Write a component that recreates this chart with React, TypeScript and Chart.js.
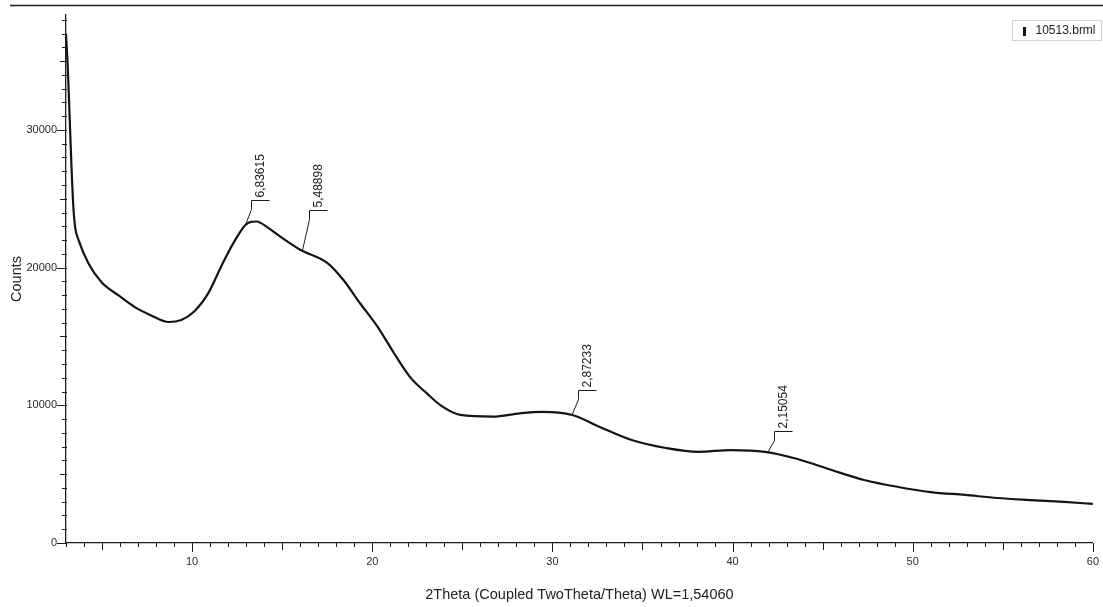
import { useEffect, useRef } from 'react';
import { Chart, registerables } from 'chart.js';

Chart.register(...registerables);

// Diffractogram of sample 10513 (Cu Kα, WL = 1,54060 Å)
const WAVELENGTH = 1.5406;
const seriesName = '10513.brml';

const twoTheta = [
  3.0, 3.1, 3.2, 3.3, 3.4, 3.5, 3.7, 4.25, 5.0, 5.9, 6.8, 7.7, 8.7, 9.4, 10.1, 10.9,
  11.6, 12.3, 13.1, 13.6, 13.8, 14.9, 16.0, 17.5, 18.4, 19.3, 20.3, 21.2, 22.1, 23.0,
  23.9, 24.9, 26.7, 28.2, 29.4, 31.1, 32.6, 34.4, 36.3, 38.1, 39.9, 41.8, 43.6, 45.5,
  47.3, 49.2, 51.0, 52.9, 54.7, 56.5, 58.4, 60.0,
];

const counts = [
  37000, 34500, 31000, 27500, 24600, 23000, 22000, 20300, 18900, 18000, 17150, 16550,
  16050, 16200, 16800, 18150, 20050, 21800, 23250, 23350, 23250, 22250, 21300, 20350,
  19100, 17450, 15700, 13800, 12050, 10900, 9900, 9300, 9180, 9420, 9520, 9300, 8450,
  7480, 6900, 6620, 6750, 6620, 6100, 5300, 4580, 4070, 3700, 3490, 3270, 3120, 2980,
  2840,
];

// d-spacings (Å) of the marked reflections
const peakD = [6.83615, 5.48898, 2.87233, 2.15054];
const peakLabels = ['6,83615', '5,48898', '2,87233', '2,15054'];

const xTickValues = [10, 20, 30, 40, 50, 60];
const yTickValues = [0, 10000, 20000, 30000];

// leader heights above the trace for each marker, px
const LEADER_RISE = [27, 41, 25, 22];

const FONT = "'Liberation Sans', Arial, Helvetica, sans-serif";
const INK = '#1c1c1c';

function braggTwoTheta(d: number) {
  return (2 * Math.asin(WAVELENGTH / (2 * d)) * 180) / Math.PI;
}

function countsAt(x: number) {
  for (let i = 0; i < twoTheta.length - 1; i++) {
    if (x >= twoTheta[i] && x <= twoTheta[i + 1]) {
      const t = (x - twoTheta[i]) / (twoTheta[i + 1] - twoTheta[i]);
      return counts[i] + t * (counts[i + 1] - counts[i]);
    }
  }
  return counts[counts.length - 1];
}

const decorations = {
  id: 'xrdDecorations',
  afterDraw(chart: any) {
    const { ctx, chartArea, scales } = chart;
    const xs = scales.x;
    const ys = scales.y;
    const seg = (x1: number, y1: number, x2: number, y2: number) => {
      ctx.beginPath();
      ctx.moveTo(x1, y1);
      ctx.lineTo(x2, y2);
      ctx.stroke();
    };
    ctx.save();
    ctx.strokeStyle = INK;

    // frame line across the top of the page
    ctx.lineWidth = 1.6;
    seg(10, 5.5, chart.width, 5.5);

    // x-axis tick marks: 1° minor, 5° medium, 10° major
    ctx.lineWidth = 1;
    for (let v = Math.ceil(xs.min); v <= xs.max; v += 1) {
      const px = Math.round(xs.getPixelForValue(v)) + 0.5;
      const len = v % 10 === 0 ? 9 : v % 5 === 0 ? 7 : 4;
      seg(px, chartArea.bottom, px, chartArea.bottom + len);
    }

    // y-axis tick marks: 1000 minor, 5000 medium, 10000 major
    for (let v = 0; v <= ys.max; v += 1000) {
      const py = Math.round(ys.getPixelForValue(v)) + 0.5;
      const len = v % 10000 === 0 ? 9 : v % 5000 === 0 ? 6 : 4;
      seg(chartArea.left - len, py, chartArea.left + 1, py);
    }

    // reflection markers with d-spacing labels
    ctx.fillStyle = INK;
    ctx.font = `12px ${FONT}`;
    peakD.forEach((d, i) => {
      const tt = braggTwoTheta(d);
      const px = xs.getPixelForValue(tt);
      const py = ys.getPixelForValue(countsAt(tt));
      const top = Math.round(py - LEADER_RISE[i]) + 0.5;
      const vx = Math.round(px + 6) + 0.5;
      ctx.beginPath();
      ctx.moveTo(px, py - 1);
      ctx.lineTo(vx, top + 9);
      ctx.lineTo(vx, top);
      ctx.lineTo(vx + 18, top);
      ctx.stroke();
      ctx.save();
      ctx.translate(vx + 9, top - 3);
      ctx.rotate(-Math.PI / 2);
      ctx.textAlign = 'left';
      ctx.textBaseline = 'middle';
      ctx.fillText(peakLabels[i], 0, 0);
      ctx.restore();
    });

    // legend box
    const bx = 1012.5;
    const by = 20.5;
    ctx.fillStyle = '#ffffff';
    ctx.fillRect(bx, by, 89, 20);
    ctx.strokeStyle = '#d2d2d2';
    ctx.strokeRect(bx, by, 89, 20);
    ctx.fillStyle = '#111';
    ctx.fillRect(bx + 10.5, by + 6.5, 3, 9);
    ctx.fillStyle = INK;
    ctx.font = `12px ${FONT}`;
    ctx.textAlign = 'left';
    ctx.textBaseline = 'middle';
    ctx.fillText(seriesName, bx + 23, by + 10.5);

    ctx.restore();
  },
};

export default function App() {
  const canvasRef = useRef<HTMLCanvasElement | null>(null);

  useEffect(() => {
    document.body.style.margin = '0';
    const canvas = canvasRef.current;
    if (!canvas) return;

    const chart = new Chart(canvas, {
      type: 'line',
      data: {
        datasets: [
          {
            label: seriesName,
            data: twoTheta.map((x, i) => ({ x, y: counts[i] })),
            borderColor: '#141414',
            borderWidth: 2.2,
            pointRadius: 0,
            fill: false,
            cubicInterpolationMode: 'monotone',
          },
        ],
      },
      options: {
        responsive: false,
        animation: false,
        events: [],
        layout: { padding: { top: 15, right: 7, left: 0, bottom: 0 } },
        plugins: {
          legend: { display: false },
          tooltip: { enabled: false },
        },
        scales: {
          x: {
            type: 'linear',
            min: 3,
            max: 60,
            afterBuildTicks: (scale: any) => {
              scale.ticks = xTickValues.map((value) => ({ value }));
            },
            afterFit: (scale: any) => {
              scale.height = 64;
            },
            grid: {
              drawOnChartArea: false,
              drawTicks: true,
              tickLength: 8,
              tickColor: 'rgba(0,0,0,0)',
            },
            border: { display: true, color: INK, width: 1.3 },
            ticks: {
              autoSkip: false,
              maxRotation: 0,
              padding: 4,
              color: '#2a2a2a',
              font: { family: FONT, size: 11 },
              callback: (v: any) => String(v),
            },
            title: {
              display: true,
              text: '2Theta (Coupled TwoTheta/Theta) WL=1,54060',
              color: '#222',
              font: { family: FONT, size: 14.5 },
              padding: { top: 0, bottom: 3 },
            },
          },
          y: {
            type: 'linear',
            min: 0,
            max: 38350,
            afterBuildTicks: (scale: any) => {
              scale.ticks = yTickValues.map((value) => ({ value }));
            },
            afterFit: (scale: any) => {
              scale.width = 66;
            },
            grid: {
              drawOnChartArea: false,
              drawTicks: true,
              tickLength: 8,
              tickColor: 'rgba(0,0,0,0)',
            },
            border: { display: true, color: INK, width: 1.3 },
            ticks: {
              autoSkip: false,
              padding: 1,
              color: '#2a2a2a',
              font: { family: FONT, size: 11 },
              callback: (v: any) => String(v),
            },
            title: {
              display: true,
              text: 'Counts',
              color: '#222',
              font: { family: FONT, size: 14.5 },
              padding: { top: 8, bottom: 0 },
            },
          },
        },
      },
      plugins: [decorations],
    });

    return () => chart.destroy();
  }, []);

  return (
    <div style={{ width: 1103, height: 607, background: '#fff' }}>
      <canvas ref={canvasRef} width={1103} height={607} />
    </div>
  );
}
